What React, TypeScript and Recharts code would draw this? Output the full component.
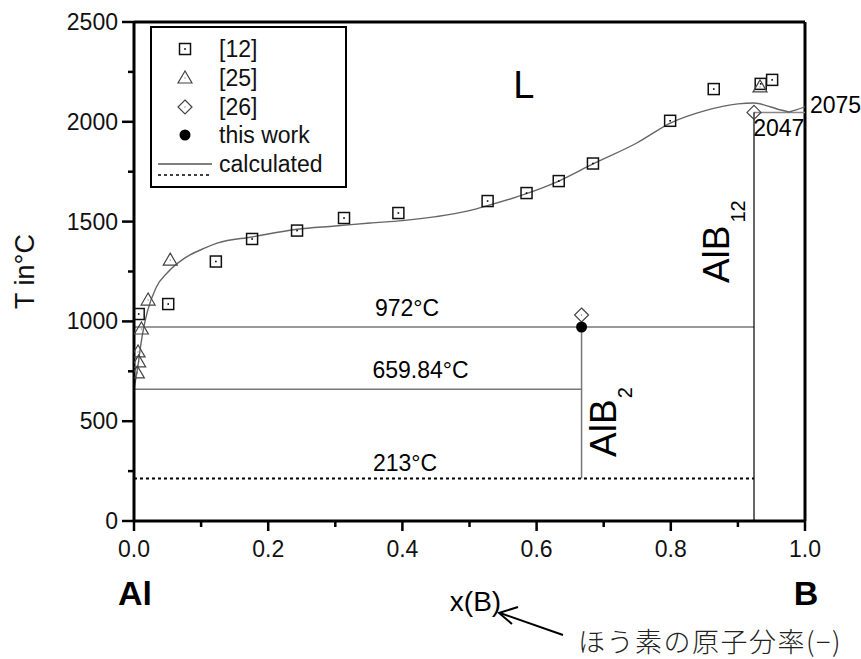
import {
  ComposedChart,
  XAxis,
  YAxis,
  Line,
  Scatter,
  ReferenceLine,
  ReferenceDot,
  Legend,
  Label,
} from 'recharts';

const FONT = '"Liberation Sans", Arial, Helvetica, sans-serif';
const JP_FONT = '"Noto Sans CJK JP", sans-serif';

// tick values
const xTicks = [0, 0.1, 0.2, 0.3, 0.4, 0.5, 0.6, 0.7, 0.8, 0.9, 1];
const xMajor = [0, 0.2, 0.4, 0.6, 0.8, 1];
const yTicks = [0, 250, 500, 750, 1000, 1250, 1500, 1750, 2000, 2250, 2500];
const yMajor = [0, 500, 1000, 1500, 2000, 2500];

// measured liquidus, ref. [12]
const ref12 = [
  { x: 0.007, T: 1037 },
  { x: 0.051, T: 1087 },
  { x: 0.122, T: 1300 },
  { x: 0.176, T: 1413 },
  { x: 0.243, T: 1455 },
  { x: 0.313, T: 1518 },
  { x: 0.394, T: 1543 },
  { x: 0.527, T: 1603 },
  { x: 0.585, T: 1643 },
  { x: 0.633, T: 1703 },
  { x: 0.684, T: 1791 },
  { x: 0.799, T: 2005 },
  { x: 0.864, T: 2164 },
  { x: 0.934, T: 2190 },
  { x: 0.951, T: 2210 },
];

// ref. [25]
const ref25 = [
  { x: 0.005, T: 742 },
  { x: 0.007, T: 797 },
  { x: 0.006, T: 847 },
  { x: 0.011, T: 962 },
  { x: 0.021, T: 1107 },
  { x: 0.054, T: 1307 },
  { x: 0.933, T: 2175 },
];

// ref. [26]
const ref26 = [
  { x: 0.667, T: 1032 },
  { x: 0.924, T: 2047 },
];

const thisWork = [{ x: 0.667, T: 972 }];

// calculated liquidus
const calcLiquidus = [
  { x: 0, T: 660 },
  { x: 0.003, T: 720 },
  { x: 0.006, T: 780 },
  { x: 0.01, T: 880 },
  { x: 0.014, T: 960 },
  { x: 0.02, T: 1050 },
  { x: 0.033, T: 1170 },
  { x: 0.05, T: 1245 },
  { x: 0.076, T: 1318 },
  { x: 0.106, T: 1368 },
  { x: 0.125, T: 1393 },
  { x: 0.176, T: 1423 },
  { x: 0.243, T: 1462 },
  { x: 0.3, T: 1478 },
  { x: 0.352, T: 1493 },
  { x: 0.4, T: 1505 },
  { x: 0.45, T: 1525 },
  { x: 0.5, T: 1555 },
  { x: 0.527, T: 1580 },
  { x: 0.585, T: 1640 },
  { x: 0.633, T: 1703 },
  { x: 0.684, T: 1789 },
  { x: 0.75, T: 1895 },
  { x: 0.8, T: 1995 },
  { x: 0.85, T: 2055 },
  { x: 0.9, T: 2090 },
  { x: 0.924, T: 2094 },
  { x: 0.949, T: 2074 },
  { x: 0.964, T: 2059 },
  { x: 0.976, T: 2049 },
];
const calcBoron = [
  { x: 0.976, T: 2049 },
  { x: 0.988, T: 2061 },
  { x: 1, T: 2075 },
];

// invariant reactions and compounds
const xAlB2 = 0.667;
const xAlB12 = 0.924;
const tPeritectic = 972;
const tAlMelt = 659.84;
const tLow = 213;
const tB = 2047;

const Square = ({ cx, cy }: any) => (
  <g>
    <rect x={cx - 5.5} y={cy - 5.5} width={11} height={11} fill="none" stroke="#111" strokeWidth={1.5} />
    <rect x={cx - 0.8} y={cy - 0.8} width={1.6} height={1.6} fill="#000" />
  </g>
);

const Triangle = ({ cx, cy }: any) => (
  <g>
    <polygon
      points={`${cx},${cy - 7} ${cx - 7},${cy + 5} ${cx + 7},${cy + 5}`}
      fill="none"
      stroke="#444"
      strokeWidth={1.2}
    />
    <rect x={cx - 0.5} y={cy - 0.5} width={1} height={1} fill="#555" />
  </g>
);

const Diamond = ({ cx, cy }: any) => (
  <g>
    <polygon
      points={`${cx},${cy - 7} ${cx + 7},${cy} ${cx},${cy + 7} ${cx - 7},${cy}`}
      fill="none"
      stroke="#444"
      strokeWidth={1.2}
    />
    <rect x={cx - 0.5} y={cy - 0.5} width={1} height={1} fill="#555" />
  </g>
);

const Dot = ({ cx, cy }: any) => <circle cx={cx} cy={cy} r={5.5} fill="#000" />;

const XTick = ({ x, y, payload }: any) => {
  const major = xMajor.includes(payload.value);
  return (
    <g>
      <line x1={x} x2={x} y1={y} y2={y + (major ? 10 : 6)} stroke="#000" strokeWidth={2.5} />
      {major && (
        <text x={x} y={y + 28} textAnchor="middle" dominantBaseline="central" fontFamily={FONT} fontSize={23} fill="#111">
          {payload.value.toFixed(1)}
        </text>
      )}
    </g>
  );
};

const YTick = ({ x, y, payload }: any) => {
  const major = yMajor.includes(payload.value);
  return (
    <g>
      <line x1={x - (major ? 12 : 6)} x2={x} y1={y} y2={y} stroke="#000" strokeWidth={2.5} />
      {major && (
        <text x={x - 16} y={y} textAnchor="end" dominantBaseline="central" fontFamily={FONT} fontSize={23} fill="#111">
          {payload.value}
        </text>
      )}
    </g>
  );
};

const XExtras = ({ viewBox }: any) => {
  const { x, y, width } = viewBox;
  return (
    <g fontFamily={FONT} fill="#000">
      <text x={x + 1} y={y + 72} textAnchor="middle" dominantBaseline="central" fontSize={34} fontWeight="bold">
        Al
      </text>
      <text x={x + width + 1} y={y + 72} textAnchor="middle" dominantBaseline="central" fontSize={34} fontWeight="bold">
        B
      </text>
      <text x={x + width * 0.509} y={y + 80} textAnchor="middle" dominantBaseline="central" fontSize={28}>
        x(B)
      </text>
      <line x1={x + 429} y1={y + 114} x2={x + 366} y2={y + 92} stroke="#000" strokeWidth={2} />
      <polyline
        points={`${x + 384},${y + 86} ${x + 365},${y + 92} ${x + 378},${y + 103}`}
        fill="none"
        stroke="#000"
        strokeWidth={2}
      />
      <text
        x={x + 444}
        y={y + 119}
        dominantBaseline="central"
        fontFamily={JP_FONT}
        fontSize={27}
        fontWeight={300}
        letterSpacing={1.5}
        fill="#222"
      >
        ほう素の原子分率(−)
      </text>
    </g>
  );
};

const YTitle = ({ viewBox }: any) => {
  const { y, height } = viewBox;
  const cy = y + height / 2;
  return (
    <text
      transform={`translate(34, ${cy}) rotate(-90)`}
      textAnchor="middle"
      fontFamily={FONT}
      fontSize={27}
      fill="#111"
    >
      T in°C
    </text>
  );
};

const textAt = (content: string, size: number, anchor = 'middle', dx = 0) => ({ cx, cy }: any) => (
  <text x={cx + dx} y={cy} textAnchor={anchor} dominantBaseline="central" fontFamily={FONT} fontSize={size} fill="#000">
    {content}
  </text>
);

const compoundLabel = (sub: string, gap: number) => ({ cx, cy }: any) => (
  <text transform={`rotate(-90 ${cx} ${cy})`} x={cx} y={cy} fontFamily={FONT} fontSize={37} fill="#000">
    AlB
    <tspan dx={gap} dy={16} fontSize={20}>
      {sub}
    </tspan>
  </text>
);

const LegendBox = () => (
  <svg width={197} height={162} style={{ display: 'block' }}>
    <rect x={1} y={1} width={195} height={160} fill="#fff" stroke="#000" strokeWidth={2} />
    <Square cx={35} cy={23} />
    <Triangle cx={35} cy={52} />
    <Diamond cx={35} cy={81} />
    <Dot cx={35} cy={109} />
    <line x1={8} x2={62} y1={138} y2={138} stroke="#000" strokeWidth={1} />
    <line x1={8} x2={62} y1={149} y2={149} stroke="#000" strokeWidth={1.5} strokeDasharray="3 3" />
    <g fontFamily={FONT} fontSize={23} fill="#111" dominantBaseline="central">
      <text x={69} y={23}>[12]</text>
      <text x={69} y={52}>[25]</text>
      <text x={69} y={81}>[26]</text>
      <text x={69} y={109}>this work</text>
      <text x={69} y={138}>calculated</text>
    </g>
  </svg>
);

export default function App() {
  return (
    <div style={{ position: 'absolute', left: 0, top: 0, background: '#fff' }}>
      <ComposedChart width={861} height={659} margin={{ top: 22, right: 56, bottom: 78, left: 74 }}>
        <XAxis
          type="number"
          dataKey="x"
          domain={[0, 1]}
          ticks={xTicks}
          tick={<XTick />}
          tickLine={false}
          tickSize={0}
          tickMargin={0}
          height={60}
          axisLine={{ stroke: '#000', strokeWidth: 3 }}
          allowDataOverflow
        >
          <Label content={<XExtras />} />
        </XAxis>
        <YAxis
          type="number"
          dataKey="T"
          domain={[0, 2500]}
          ticks={yTicks}
          tick={<YTick />}
          tickLine={false}
          tickSize={0}
          tickMargin={0}
          width={60}
          axisLine={{ stroke: '#000', strokeWidth: 3 }}
          allowDataOverflow
        >
          <Label content={<YTitle />} />
        </YAxis>

        <ReferenceLine y={2500} stroke="#000" strokeWidth={3} />
        <ReferenceLine x={1} stroke="#000" strokeWidth={3} />

        <ReferenceLine segment={[{ x: 0, y: tPeritectic }, { x: xAlB12, y: tPeritectic }]} stroke="#777" strokeWidth={1.5} />
        <ReferenceLine segment={[{ x: 0, y: tAlMelt }, { x: xAlB2, y: tAlMelt }]} stroke="#777" strokeWidth={1.5} />
        <ReferenceLine segment={[{ x: xAlB12, y: tB }, { x: 1, y: tB }]} stroke="#888" strokeWidth={1.5} />
        <ReferenceLine segment={[{ x: 0, y: tLow }, { x: xAlB12, y: tLow }]} stroke="#000" strokeWidth={1.8} strokeDasharray="3 3" />
        <ReferenceLine segment={[{ x: xAlB2, y: tLow }, { x: xAlB2, y: tPeritectic }]} stroke="#777" strokeWidth={1.5} />
        <ReferenceLine segment={[{ x: xAlB12, y: 0 }, { x: xAlB12, y: tB }]} stroke="#000" strokeWidth={1.2} />

        <Line data={calcLiquidus} dataKey="T" type="monotone" stroke="#666" strokeWidth={1.4} dot={false} isAnimationActive={false} />
        <Line data={calcBoron} dataKey="T" type="monotone" stroke="#666" strokeWidth={1.4} dot={false} isAnimationActive={false} />

        <Scatter data={ref12} shape={Square} isAnimationActive={false} />
        <Scatter data={ref25} shape={Triangle} isAnimationActive={false} />
        <Scatter data={ref26} shape={Diamond} isAnimationActive={false} />
        <Scatter data={thisWork} shape={Dot} isAnimationActive={false} />

        <ReferenceDot x={0.581} y={2184} shape={textAt('L', 38)} />
        <ReferenceDot x={0.407} y={1067} shape={textAt('972°C', 23)} />
        <ReferenceDot x={0.427} y={757} shape={textAt('659.84°C', 23)} />
        <ReferenceDot x={0.404} y={291} shape={textAt('213°C', 23)} />
        <ReferenceDot x={0.961} y={1969} shape={textAt('2047', 23)} />
        <ReferenceDot x={1} y={2085} shape={textAt('2075', 23, 'start', 5)} />
        <ReferenceDot x={0.718} y={321} shape={compoundLabel('2', 1)} />
        <ReferenceDot x={0.887} y={1192} shape={compoundLabel('12', 3)} />

        <Legend
          layout="vertical"
          align="center"
          verticalAlign="middle"
          content={<LegendBox />}
          wrapperStyle={{ left: 150, top: 26, width: 197, height: 162 }}
        />
      </ComposedChart>
    </div>
  );
}
